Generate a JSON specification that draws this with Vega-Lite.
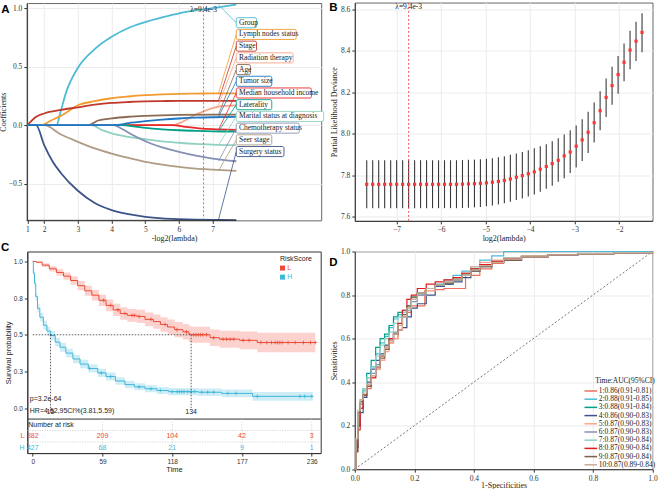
{
"$schema": "https://vega.github.io/schema/vega-lite/v6.json",
"background": "white",
"padding": {"left": -1.5, "top": 0.2, "right": 0, "bottom": 0},
"config": {
 "axis": {"labelFont": "Liberation Serif", "titleFont": "Liberation Serif", "labelFontSize": 7.5, "titleFontSize": 8, "titleFontWeight": "normal", "labelColor": "#333", "titleColor": "#222", "tickColor": "#333", "domainColor": "#333", "gridColor": "#ebebeb", "tickSize": 3, "labelFlush": false, "labelPadding": 2},
 "text": {"font": "Liberation Serif"},
 "legend": {"labelFont": "Liberation Serif", "titleFont": "Liberation Serif"}
},
"datasets": {
 "coef": [
  {"v":"Group","x":1.5,"y":0},{"v":"Group","x":2.36,"y":0},{"v":"Group","x":2.5,"y":0.13},{"v":"Group","x":2.65,"y":0.28},{"v":"Group","x":3,"y":0.49},{"v":"Group","x":3.5,"y":0.65},{"v":"Group","x":4,"y":0.755},{"v":"Group","x":4.5,"y":0.83},{"v":"Group","x":5,"y":0.88},{"v":"Group","x":5.5,"y":0.92},{"v":"Group","x":6,"y":0.955},{"v":"Group","x":6.5,"y":0.98},{"v":"Group","x":7,"y":1.0},{"v":"Group","x":7.7,"y":1.03},
  {"v":"Lymph nodes status","x":1.5,"y":0},{"v":"Lymph nodes status","x":1.9,"y":0},{"v":"Lymph nodes status","x":2.2,"y":0.04},{"v":"Lymph nodes status","x":2.5,"y":0.08},{"v":"Lymph nodes status","x":3,"y":0.17},{"v":"Lymph nodes status","x":3.5,"y":0.205},{"v":"Lymph nodes status","x":4,"y":0.23},{"v":"Lymph nodes status","x":4.5,"y":0.245},{"v":"Lymph nodes status","x":5,"y":0.256},{"v":"Lymph nodes status","x":5.5,"y":0.263},{"v":"Lymph nodes status","x":6,"y":0.268},{"v":"Lymph nodes status","x":6.5,"y":0.27},{"v":"Lymph nodes status","x":7,"y":0.272},{"v":"Lymph nodes status","x":7.7,"y":0.272},
  {"v":"Stage","x":1.5,"y":0},{"v":"Stage","x":1.6,"y":0.03},{"v":"Stage","x":1.75,"y":0.07},{"v":"Stage","x":2,"y":0.1},{"v":"Stage","x":2.5,"y":0.13},{"v":"Stage","x":3,"y":0.153},{"v":"Stage","x":3.5,"y":0.175},{"v":"Stage","x":4,"y":0.19},{"v":"Stage","x":4.5,"y":0.198},{"v":"Stage","x":5,"y":0.203},{"v":"Stage","x":5.5,"y":0.206},{"v":"Stage","x":6,"y":0.208},{"v":"Stage","x":7,"y":0.208},{"v":"Stage","x":7.7,"y":0.208},
  {"v":"Radiation therapy","x":1.5,"y":0},{"v":"Radiation therapy","x":5.8,"y":0},{"v":"Radiation therapy","x":6.5,"y":0.09},{"v":"Radiation therapy","x":7.2,"y":0.16},{"v":"Radiation therapy","x":7.7,"y":0.17},
  {"v":"Age","x":1.5,"y":0},{"v":"Age","x":3.3,"y":0},{"v":"Age","x":3.6,"y":0.04},{"v":"Age","x":4,"y":0.058},{"v":"Age","x":4.5,"y":0.072},{"v":"Age","x":5,"y":0.08},{"v":"Age","x":6,"y":0.088},{"v":"Age","x":7,"y":0.09},{"v":"Age","x":7.7,"y":0.09},
  {"v":"Median household income","x":1.5,"y":0},{"v":"Median household income","x":5.8,"y":0},{"v":"Median household income","x":6.2,"y":-0.015},{"v":"Median household income","x":6.6,"y":-0.027},{"v":"Median household income","x":7,"y":-0.034},{"v":"Median household income","x":7.7,"y":-0.04},
  {"v":"Laterality","x":1.5,"y":0},{"v":"Laterality","x":4.3,"y":0},{"v":"Laterality","x":4.7,"y":-0.012},{"v":"Laterality","x":5,"y":-0.023},{"v":"Laterality","x":5.5,"y":-0.035},{"v":"Laterality","x":6,"y":-0.043},{"v":"Laterality","x":6.5,"y":-0.048},{"v":"Laterality","x":7,"y":-0.052},{"v":"Laterality","x":7.7,"y":-0.054},
  {"v":"Marital status at diagnosis","x":1.5,"y":0},{"v":"Marital status at diagnosis","x":3.4,"y":0},{"v":"Marital status at diagnosis","x":3.7,"y":-0.04},{"v":"Marital status at diagnosis","x":4,"y":-0.07},{"v":"Marital status at diagnosis","x":4.5,"y":-0.1},{"v":"Marital status at diagnosis","x":5,"y":-0.12},{"v":"Marital status at diagnosis","x":5.5,"y":-0.138},{"v":"Marital status at diagnosis","x":6,"y":-0.15},{"v":"Marital status at diagnosis","x":6.5,"y":-0.16},{"v":"Marital status at diagnosis","x":7,"y":-0.166},{"v":"Marital status at diagnosis","x":7.7,"y":-0.171},
  {"v":"Chemotherapy status","x":1.5,"y":0},{"v":"Chemotherapy status","x":4.05,"y":0},{"v":"Chemotherapy status","x":4.3,"y":-0.03},{"v":"Chemotherapy status","x":4.6,"y":-0.08},{"v":"Chemotherapy status","x":5,"y":-0.137},{"v":"Chemotherapy status","x":5.5,"y":-0.19},{"v":"Chemotherapy status","x":6,"y":-0.228},{"v":"Chemotherapy status","x":6.5,"y":-0.26},{"v":"Chemotherapy status","x":7,"y":-0.285},{"v":"Chemotherapy status","x":7.7,"y":-0.308},
  {"v":"Seer stage","x":1.5,"y":0},{"v":"Seer stage","x":2.0,"y":0},{"v":"Seer stage","x":2.5,"y":-0.08},{"v":"Seer stage","x":3,"y":-0.142},{"v":"Seer stage","x":3.5,"y":-0.198},{"v":"Seer stage","x":4,"y":-0.242},{"v":"Seer stage","x":4.5,"y":-0.28},{"v":"Seer stage","x":5,"y":-0.313},{"v":"Seer stage","x":5.5,"y":-0.337},{"v":"Seer stage","x":6,"y":-0.356},{"v":"Seer stage","x":6.5,"y":-0.37},{"v":"Seer stage","x":7,"y":-0.379},{"v":"Seer stage","x":7.7,"y":-0.39},
  {"v":"Surgery status","x":1.5,"y":0},{"v":"Surgery status","x":1.76,"y":0},{"v":"Surgery status","x":2,"y":-0.17},{"v":"Surgery status","x":2.25,"y":-0.31},{"v":"Surgery status","x":2.5,"y":-0.41},{"v":"Surgery status","x":3,"y":-0.56},{"v":"Surgery status","x":3.5,"y":-0.665},{"v":"Surgery status","x":4,"y":-0.725},{"v":"Surgery status","x":4.5,"y":-0.76},{"v":"Surgery status","x":5,"y":-0.782},{"v":"Surgery status","x":5.5,"y":-0.795},{"v":"Surgery status","x":6,"y":-0.802},{"v":"Surgery status","x":7,"y":-0.809},{"v":"Surgery status","x":7.7,"y":-0.81},
  {"v":"Tumor size","x":1.5,"y":0},{"v":"Tumor size","x":4.1,"y":0},{"v":"Tumor size","x":4.5,"y":0.018},{"v":"Tumor size","x":5,"y":0.034},{"v":"Tumor size","x":5.5,"y":0.047},{"v":"Tumor size","x":6,"y":0.057},{"v":"Tumor size","x":6.5,"y":0.064},{"v":"Tumor size","x":7,"y":0.068},{"v":"Tumor size","x":7.7,"y":0.071}
 ],
 "cv": [
  {"lx":-7.672,"m":7.756,"lo":7.641,"hi":7.872},{"lx":-7.538,"m":7.756,"lo":7.641,"hi":7.872},{"lx":-7.403,"m":7.756,"lo":7.641,"hi":7.872},{"lx":-7.269,"m":7.756,"lo":7.641,"hi":7.872},{"lx":-7.134,"m":7.756,"lo":7.641,"hi":7.872},{"lx":-7.0,"m":7.756,"lo":7.641,"hi":7.872},{"lx":-6.865,"m":7.756,"lo":7.641,"hi":7.872},{"lx":-6.731,"m":7.756,"lo":7.641,"hi":7.872},{"lx":-6.596,"m":7.756,"lo":7.641,"hi":7.872},{"lx":-6.462,"m":7.756,"lo":7.641,"hi":7.872},{"lx":-6.327,"m":7.756,"lo":7.641,"hi":7.872},{"lx":-6.193,"m":7.756,"lo":7.641,"hi":7.872},{"lx":-6.058,"m":7.756,"lo":7.641,"hi":7.872},{"lx":-5.924,"m":7.756,"lo":7.641,"hi":7.872},{"lx":-5.789,"m":7.756,"lo":7.641,"hi":7.872},{"lx":-5.655,"m":7.756,"lo":7.641,"hi":7.872},
  {"lx":-5.52,"m":7.757,"lo":7.642,"hi":7.873},{"lx":-5.386,"m":7.758,"lo":7.643,"hi":7.874},{"lx":-5.251,"m":7.759,"lo":7.645,"hi":7.875},{"lx":-5.117,"m":7.761,"lo":7.647,"hi":7.877},{"lx":-4.982,"m":7.763,"lo":7.65,"hi":7.879},{"lx":-4.848,"m":7.766,"lo":7.654,"hi":7.882},{"lx":-4.713,"m":7.77,"lo":7.659,"hi":7.886},{"lx":-4.579,"m":7.775,"lo":7.665,"hi":7.891},{"lx":-4.444,"m":7.782,"lo":7.672,"hi":7.898},{"lx":-4.31,"m":7.79,"lo":7.68,"hi":7.905},{"lx":-4.175,"m":7.798,"lo":7.688,"hi":7.912},{"lx":-4.041,"m":7.807,"lo":7.697,"hi":7.92},{"lx":-3.906,"m":7.816,"lo":7.707,"hi":7.93},{"lx":-3.772,"m":7.829,"lo":7.72,"hi":7.94},{"lx":-3.637,"m":7.842,"lo":7.735,"hi":7.949},{"lx":-3.503,"m":7.856,"lo":7.749,"hi":7.964},{"lx":-3.368,"m":7.872,"lo":7.768,"hi":7.978},{"lx":-3.234,"m":7.893,"lo":7.785,"hi":7.996},{"lx":-3.099,"m":7.912,"lo":7.81,"hi":8.016},{"lx":-2.965,"m":7.94,"lo":7.837,"hi":8.04},{"lx":-2.83,"m":7.97,"lo":7.869,"hi":8.07},{"lx":-2.696,"m":8.007,"lo":7.907,"hi":8.106},{"lx":-2.561,"m":8.053,"lo":7.957,"hi":8.15},{"lx":-2.427,"m":8.111,"lo":8.016,"hi":8.205},{"lx":-2.292,"m":8.175,"lo":8.08,"hi":8.266},{"lx":-2.158,"m":8.232,"lo":8.14,"hi":8.323},{"lx":-2.023,"m":8.285,"lo":8.192,"hi":8.375},{"lx":-1.889,"m":8.344,"lo":8.253,"hi":8.435},{"lx":-1.754,"m":8.403,"lo":8.31,"hi":8.496},{"lx":-1.62,"m":8.446,"lo":8.35,"hi":8.539},{"lx":-1.485,"m":8.488,"lo":8.392,"hi":8.581}
 ],
 "km": [
  {"g":"L","t":0,"p":1,"lo":1,"hi":1},{"g":"L","t":3,"p":0.995,"lo":0.988,"hi":1},{"g":"L","t":8,"p":0.975,"lo":0.962,"hi":0.988},{"g":"L","t":14,"p":0.95,"lo":0.932,"hi":0.968},{"g":"L","t":20,"p":0.925,"lo":0.903,"hi":0.947},{"g":"L","t":26,"p":0.9,"lo":0.875,"hi":0.925},{"g":"L","t":32,"p":0.87,"lo":0.842,"hi":0.898},{"g":"L","t":38,"p":0.835,"lo":0.804,"hi":0.866},{"g":"L","t":44,"p":0.8,"lo":0.766,"hi":0.834},{"g":"L","t":50,"p":0.77,"lo":0.734,"hi":0.806},{"g":"L","t":56,"p":0.735,"lo":0.697,"hi":0.773},{"g":"L","t":62,"p":0.7,"lo":0.66,"hi":0.74},{"g":"L","t":68,"p":0.67,"lo":0.628,"hi":0.712},{"g":"L","t":74,"p":0.645,"lo":0.602,"hi":0.688},{"g":"L","t":80,"p":0.632,"lo":0.588,"hi":0.676},{"g":"L","t":88,"p":0.625,"lo":0.58,"hi":0.67},{"g":"L","t":95,"p":0.605,"lo":0.558,"hi":0.652},{"g":"L","t":102,"p":0.59,"lo":0.541,"hi":0.639},{"g":"L","t":108,"p":0.57,"lo":0.52,"hi":0.62},{"g":"L","t":114,"p":0.553,"lo":0.502,"hi":0.604},{"g":"L","t":120,"p":0.535,"lo":0.483,"hi":0.587},{"g":"L","t":127,"p":0.52,"lo":0.467,"hi":0.573},{"g":"L","t":132,"p":0.505,"lo":0.451,"hi":0.559},{"g":"L","t":134,"p":0.5,"lo":0.446,"hi":0.554},{"g":"L","t":150,"p":0.48,"lo":0.424,"hi":0.536},{"g":"L","t":158,"p":0.47,"lo":0.412,"hi":0.528},{"g":"L","t":175,"p":0.462,"lo":0.401,"hi":0.523},{"g":"L","t":190,"p":0.447,"lo":0.381,"hi":0.513},{"g":"L","t":239,"p":0.447,"lo":0.381,"hi":0.513},
  {"g":"H","t":0,"p":1,"lo":1,"hi":1},{"g":"H","t":0.5,"p":0.92,"lo":0.9,"hi":0.94},{"g":"H","t":1.5,"p":0.85,"lo":0.825,"hi":0.875},{"g":"H","t":2.5,"p":0.76,"lo":0.733,"hi":0.787},{"g":"H","t":4,"p":0.68,"lo":0.652,"hi":0.708},{"g":"H","t":6,"p":0.62,"lo":0.591,"hi":0.649},{"g":"H","t":9,"p":0.565,"lo":0.535,"hi":0.595},{"g":"H","t":12,"p":0.525,"lo":0.495,"hi":0.555},{"g":"H","t":15,"p":0.495,"lo":0.465,"hi":0.525},{"g":"H","t":19,"p":0.45,"lo":0.42,"hi":0.48},{"g":"H","t":23,"p":0.415,"lo":0.385,"hi":0.445},{"g":"H","t":28,"p":0.375,"lo":0.345,"hi":0.405},{"g":"H","t":34,"p":0.335,"lo":0.306,"hi":0.364},{"g":"H","t":40,"p":0.3,"lo":0.271,"hi":0.329},{"g":"H","t":47,"p":0.27,"lo":0.242,"hi":0.298},{"g":"H","t":55,"p":0.24,"lo":0.212,"hi":0.268},{"g":"H","t":62,"p":0.215,"lo":0.188,"hi":0.242},{"g":"H","t":70,"p":0.185,"lo":0.159,"hi":0.211},{"g":"H","t":78,"p":0.16,"lo":0.135,"hi":0.185},{"g":"H","t":86,"p":0.145,"lo":0.121,"hi":0.169},{"g":"H","t":95,"p":0.132,"lo":0.108,"hi":0.156},{"g":"H","t":105,"p":0.12,"lo":0.096,"hi":0.144},{"g":"H","t":115,"p":0.112,"lo":0.087,"hi":0.137},{"g":"H","t":140,"p":0.108,"lo":0.082,"hi":0.134},{"g":"H","t":160,"p":0.1,"lo":0.073,"hi":0.127},{"g":"H","t":186,"p":0.08,"lo":0.05,"hi":0.11},{"g":"H","t":237,"p":0.08,"lo":0.05,"hi":0.11}
 ],
 "cens": [
  {"g":"L","t":60,"p":0.735},{"g":"L","t":66,"p":0.7},{"g":"L","t":72,"p":0.67},{"g":"L","t":78,"p":0.645},{"g":"L","t":84,"p":0.632},{"g":"L","t":86,"p":0.632},{"g":"L","t":90,"p":0.625},{"g":"L","t":100,"p":0.605},{"g":"L","t":112,"p":0.57},{"g":"L","t":122,"p":0.535},{"g":"L","t":130,"p":0.52},{"g":"L","t":136,"p":0.5},{"g":"L","t":138,"p":0.5},{"g":"L","t":140,"p":0.5},{"g":"L","t":142,"p":0.5},{"g":"L","t":144,"p":0.5},{"g":"L","t":147,"p":0.5},{"g":"L","t":153,"p":0.48},{"g":"L","t":161,"p":0.47},{"g":"L","t":164,"p":0.47},{"g":"L","t":167,"p":0.47},{"g":"L","t":170,"p":0.47},{"g":"L","t":178,"p":0.462},{"g":"L","t":183,"p":0.462},{"g":"L","t":193,"p":0.447},{"g":"L","t":198,"p":0.447},{"g":"L","t":202,"p":0.447},{"g":"L","t":205,"p":0.447},{"g":"L","t":207,"p":0.447},{"g":"L","t":209,"p":0.447},{"g":"L","t":211,"p":0.447},{"g":"L","t":216,"p":0.447},{"g":"L","t":222,"p":0.447},{"g":"L","t":229,"p":0.447},{"g":"L","t":235,"p":0.447},{"g":"L","t":239,"p":0.447},
  {"g":"H","t":48,"p":0.27},{"g":"H","t":58,"p":0.24},{"g":"H","t":66,"p":0.215},{"g":"H","t":90,"p":0.145},{"g":"H","t":100,"p":0.132},{"g":"H","t":108,"p":0.12},{"g":"H","t":118,"p":0.112},{"g":"H","t":122,"p":0.112},{"g":"H","t":124,"p":0.112},{"g":"H","t":126,"p":0.112},{"g":"H","t":128,"p":0.112},{"g":"H","t":131,"p":0.112},{"g":"H","t":134,"p":0.112},{"g":"H","t":137,"p":0.112},{"g":"H","t":143,"p":0.108},{"g":"H","t":148,"p":0.108},{"g":"H","t":153,"p":0.108},{"g":"H","t":165,"p":0.1},{"g":"H","t":172,"p":0.1},{"g":"H","t":190,"p":0.08},{"g":"H","t":226,"p":0.08},{"g":"H","t":230,"p":0.08},{"g":"H","t":236,"p":0.08}
 ],
 "risk": [
  {"g":"L","t":0,"n":"382"},{"g":"L","t":59,"n":"209"},{"g":"L","t":118,"n":"104"},{"g":"L","t":177,"n":"42"},{"g":"L","t":236,"n":"3"},
  {"g":"H","t":0,"n":"427"},{"g":"H","t":59,"n":"68"},{"g":"H","t":118,"n":"21"},{"g":"H","t":177,"n":"9"},{"g":"H","t":236,"n":"1"}
 ],
 "medians": [{"t":15},{"t":134}],
 "aucs": [
  {"k":1,"s":"1:0.86(0.91-0.81)"},{"k":2,"s":"2:0.88(0.91-0.85)"},{"k":3,"s":"3:0.88(0.91-0.84)"},{"k":4,"s":"4:0.86(0.90-0.83)"},{"k":5,"s":"5:0.87(0.90-0.83)"},{"k":6,"s":"6:0.87(0.90-0.83)"},{"k":7,"s":"7:0.87(0.90-0.84)"},{"k":8,"s":"8:0.87(0.90-0.84)"},{"k":9,"s":"9:0.87(0.90-0.84)"},{"k":10,"s":"10:0.87(0.89-0.84)"}
 ],
 "roc": [
  {"k":1,"x":0,"y":0},{"k":1,"x":0.004,"y":0.1},{"k":1,"x":0.01,"y":0.22},{"k":1,"x":0.018,"y":0.28},{"k":1,"x":0.028,"y":0.33},{"k":1,"x":0.04,"y":0.37},{"k":1,"x":0.055,"y":0.42},{"k":1,"x":0.07,"y":0.46},{"k":1,"x":0.085,"y":0.5},{"k":1,"x":0.1,"y":0.55},{"k":1,"x":0.115,"y":0.58},{"k":1,"x":0.13,"y":0.6},{"k":1,"x":0.145,"y":0.64},{"k":1,"x":0.16,"y":0.7},{"k":1,"x":0.175,"y":0.72},{"k":1,"x":0.19,"y":0.75},{"k":1,"x":0.21,"y":0.75},{"k":1,"x":0.235,"y":0.82},{"k":1,"x":0.27,"y":0.825},{"k":1,"x":0.3,"y":0.83},{"k":1,"x":0.33,"y":0.83},{"k":1,"x":0.36,"y":0.83},{"k":1,"x":0.372,"y":0.89},{"k":1,"x":0.42,"y":0.92},{"k":1,"x":0.46,"y":0.945},{"k":1,"x":0.5,"y":0.96},{"k":1,"x":0.56,"y":0.975},{"k":1,"x":0.65,"y":0.985},{"k":1,"x":0.75,"y":0.99},{"k":1,"x":0.87,"y":0.995},{"k":1,"x":1,"y":1},
  {"k":2,"x":0,"y":0},{"k":2,"x":0.004,"y":0.1},{"k":2,"x":0.01,"y":0.2},{"k":2,"x":0.018,"y":0.3},{"k":2,"x":0.028,"y":0.36},{"k":2,"x":0.04,"y":0.42},{"k":2,"x":0.055,"y":0.47},{"k":2,"x":0.07,"y":0.53},{"k":2,"x":0.085,"y":0.58},{"k":2,"x":0.1,"y":0.61},{"k":2,"x":0.115,"y":0.65},{"k":2,"x":0.13,"y":0.69},{"k":2,"x":0.145,"y":0.71},{"k":2,"x":0.16,"y":0.72},{"k":2,"x":0.175,"y":0.75},{"k":2,"x":0.19,"y":0.78},{"k":2,"x":0.21,"y":0.8},{"k":2,"x":0.24,"y":0.83},{"k":2,"x":0.27,"y":0.85},{"k":2,"x":0.3,"y":0.87},{"k":2,"x":0.33,"y":0.89},{"k":2,"x":0.36,"y":0.91},{"k":2,"x":0.39,"y":0.93},{"k":2,"x":0.42,"y":0.96},{"k":2,"x":0.46,"y":0.98},{"k":2,"x":0.5,"y":1},{"k":2,"x":1,"y":1},
  {"k":3,"x":0,"y":0},{"k":3,"x":0.004,"y":0.08},{"k":3,"x":0.01,"y":0.2},{"k":3,"x":0.018,"y":0.3},{"k":3,"x":0.028,"y":0.37},{"k":3,"x":0.04,"y":0.44},{"k":3,"x":0.055,"y":0.5},{"k":3,"x":0.07,"y":0.56},{"k":3,"x":0.085,"y":0.6},{"k":3,"x":0.1,"y":0.62},{"k":3,"x":0.115,"y":0.66},{"k":3,"x":0.13,"y":0.7},{"k":3,"x":0.145,"y":0.72},{"k":3,"x":0.16,"y":0.73},{"k":3,"x":0.175,"y":0.75},{"k":3,"x":0.19,"y":0.79},{"k":3,"x":0.21,"y":0.81},{"k":3,"x":0.24,"y":0.83},{"k":3,"x":0.27,"y":0.84},{"k":3,"x":0.3,"y":0.85},{"k":3,"x":0.33,"y":0.87},{"k":3,"x":0.36,"y":0.9},{"k":3,"x":0.39,"y":0.92},{"k":3,"x":0.42,"y":0.94},{"k":3,"x":0.46,"y":0.955},{"k":3,"x":0.5,"y":0.97},{"k":3,"x":0.56,"y":0.98},{"k":3,"x":0.65,"y":0.985},{"k":3,"x":0.75,"y":0.99},{"k":3,"x":0.87,"y":0.995},{"k":3,"x":1,"y":1},
  {"k":4,"x":0,"y":0},{"k":4,"x":0.004,"y":0.1},{"k":4,"x":0.01,"y":0.2},{"k":4,"x":0.018,"y":0.26},{"k":4,"x":0.028,"y":0.33},{"k":4,"x":0.04,"y":0.4},{"k":4,"x":0.055,"y":0.46},{"k":4,"x":0.07,"y":0.5},{"k":4,"x":0.085,"y":0.53},{"k":4,"x":0.1,"y":0.57},{"k":4,"x":0.115,"y":0.6},{"k":4,"x":0.13,"y":0.62},{"k":4,"x":0.145,"y":0.64},{"k":4,"x":0.16,"y":0.65},{"k":4,"x":0.175,"y":0.7},{"k":4,"x":0.19,"y":0.74},{"k":4,"x":0.21,"y":0.76},{"k":4,"x":0.24,"y":0.8},{"k":4,"x":0.27,"y":0.84},{"k":4,"x":0.3,"y":0.85},{"k":4,"x":0.33,"y":0.86},{"k":4,"x":0.36,"y":0.88},{"k":4,"x":0.39,"y":0.91},{"k":4,"x":0.42,"y":0.93},{"k":4,"x":0.46,"y":0.95},{"k":4,"x":0.5,"y":0.96},{"k":4,"x":0.56,"y":0.975},{"k":4,"x":0.65,"y":0.985},{"k":4,"x":0.75,"y":0.99},{"k":4,"x":0.87,"y":0.995},{"k":4,"x":1,"y":1},
  {"k":5,"x":0,"y":0},{"k":5,"x":0.004,"y":0.12},{"k":5,"x":0.01,"y":0.25},{"k":5,"x":0.018,"y":0.3},{"k":5,"x":0.028,"y":0.34},{"k":5,"x":0.04,"y":0.38},{"k":5,"x":0.055,"y":0.42},{"k":5,"x":0.07,"y":0.46},{"k":5,"x":0.085,"y":0.5},{"k":5,"x":0.1,"y":0.54},{"k":5,"x":0.115,"y":0.58},{"k":5,"x":0.13,"y":0.6},{"k":5,"x":0.145,"y":0.64},{"k":5,"x":0.16,"y":0.7},{"k":5,"x":0.175,"y":0.74},{"k":5,"x":0.19,"y":0.78},{"k":5,"x":0.21,"y":0.8},{"k":5,"x":0.24,"y":0.82},{"k":5,"x":0.27,"y":0.845},{"k":5,"x":0.3,"y":0.86},{"k":5,"x":0.33,"y":0.87},{"k":5,"x":0.36,"y":0.9},{"k":5,"x":0.39,"y":0.93},{"k":5,"x":0.42,"y":0.95},{"k":5,"x":0.46,"y":0.96},{"k":5,"x":0.5,"y":0.97},{"k":5,"x":0.56,"y":0.98},{"k":5,"x":0.65,"y":0.985},{"k":5,"x":0.75,"y":0.99},{"k":5,"x":0.87,"y":0.995},{"k":5,"x":1,"y":1},
  {"k":6,"x":0,"y":0},{"k":6,"x":0.004,"y":0.12},{"k":6,"x":0.01,"y":0.22},{"k":6,"x":0.018,"y":0.3},{"k":6,"x":0.028,"y":0.34},{"k":6,"x":0.04,"y":0.39},{"k":6,"x":0.055,"y":0.44},{"k":6,"x":0.07,"y":0.48},{"k":6,"x":0.085,"y":0.52},{"k":6,"x":0.1,"y":0.56},{"k":6,"x":0.115,"y":0.6},{"k":6,"x":0.13,"y":0.63},{"k":6,"x":0.145,"y":0.66},{"k":6,"x":0.16,"y":0.7},{"k":6,"x":0.175,"y":0.73},{"k":6,"x":0.19,"y":0.77},{"k":6,"x":0.21,"y":0.8},{"k":6,"x":0.24,"y":0.83},{"k":6,"x":0.27,"y":0.845},{"k":6,"x":0.3,"y":0.855},{"k":6,"x":0.33,"y":0.87},{"k":6,"x":0.36,"y":0.89},{"k":6,"x":0.39,"y":0.91},{"k":6,"x":0.42,"y":0.935},{"k":6,"x":0.46,"y":0.95},{"k":6,"x":0.5,"y":0.965},{"k":6,"x":0.56,"y":0.975},{"k":6,"x":0.65,"y":0.985},{"k":6,"x":0.75,"y":0.99},{"k":6,"x":0.87,"y":0.995},{"k":6,"x":1,"y":1},
  {"k":7,"x":0,"y":0},{"k":7,"x":0.004,"y":0.14},{"k":7,"x":0.01,"y":0.26},{"k":7,"x":0.018,"y":0.32},{"k":7,"x":0.028,"y":0.37},{"k":7,"x":0.04,"y":0.42},{"k":7,"x":0.055,"y":0.47},{"k":7,"x":0.07,"y":0.52},{"k":7,"x":0.085,"y":0.57},{"k":7,"x":0.1,"y":0.6},{"k":7,"x":0.115,"y":0.63},{"k":7,"x":0.13,"y":0.67},{"k":7,"x":0.145,"y":0.7},{"k":7,"x":0.16,"y":0.72},{"k":7,"x":0.175,"y":0.75},{"k":7,"x":0.19,"y":0.79},{"k":7,"x":0.21,"y":0.81},{"k":7,"x":0.24,"y":0.83},{"k":7,"x":0.27,"y":0.845},{"k":7,"x":0.3,"y":0.86},{"k":7,"x":0.33,"y":0.875},{"k":7,"x":0.36,"y":0.895},{"k":7,"x":0.39,"y":0.915},{"k":7,"x":0.42,"y":0.935},{"k":7,"x":0.46,"y":0.95},{"k":7,"x":0.5,"y":0.965},{"k":7,"x":0.56,"y":0.975},{"k":7,"x":0.65,"y":0.985},{"k":7,"x":0.75,"y":0.99},{"k":7,"x":0.87,"y":0.995},{"k":7,"x":1,"y":1},
  {"k":8,"x":0,"y":0},{"k":8,"x":0.004,"y":0.08},{"k":8,"x":0.01,"y":0.18},{"k":8,"x":0.018,"y":0.28},{"k":8,"x":0.028,"y":0.34},{"k":8,"x":0.04,"y":0.38},{"k":8,"x":0.055,"y":0.42},{"k":8,"x":0.07,"y":0.47},{"k":8,"x":0.085,"y":0.52},{"k":8,"x":0.1,"y":0.56},{"k":8,"x":0.115,"y":0.6},{"k":8,"x":0.13,"y":0.62},{"k":8,"x":0.145,"y":0.67},{"k":8,"x":0.16,"y":0.73},{"k":8,"x":0.175,"y":0.78},{"k":8,"x":0.19,"y":0.8},{"k":8,"x":0.21,"y":0.83},{"k":8,"x":0.24,"y":0.85},{"k":8,"x":0.27,"y":0.86},{"k":8,"x":0.3,"y":0.87},{"k":8,"x":0.33,"y":0.88},{"k":8,"x":0.36,"y":0.9},{"k":8,"x":0.39,"y":0.92},{"k":8,"x":0.42,"y":0.94},{"k":8,"x":0.46,"y":0.955},{"k":8,"x":0.5,"y":0.965},{"k":8,"x":0.56,"y":0.975},{"k":8,"x":0.65,"y":0.985},{"k":8,"x":0.75,"y":0.99},{"k":8,"x":0.87,"y":0.995},{"k":8,"x":1,"y":1},
  {"k":9,"x":0,"y":0},{"k":9,"x":0.004,"y":0.13},{"k":9,"x":0.01,"y":0.26},{"k":9,"x":0.018,"y":0.31},{"k":9,"x":0.028,"y":0.34},{"k":9,"x":0.04,"y":0.38},{"k":9,"x":0.055,"y":0.43},{"k":9,"x":0.07,"y":0.47},{"k":9,"x":0.085,"y":0.51},{"k":9,"x":0.1,"y":0.55},{"k":9,"x":0.115,"y":0.59},{"k":9,"x":0.13,"y":0.62},{"k":9,"x":0.145,"y":0.66},{"k":9,"x":0.16,"y":0.71},{"k":9,"x":0.175,"y":0.75},{"k":9,"x":0.19,"y":0.79},{"k":9,"x":0.21,"y":0.81},{"k":9,"x":0.24,"y":0.83},{"k":9,"x":0.27,"y":0.845},{"k":9,"x":0.3,"y":0.855},{"k":9,"x":0.33,"y":0.87},{"k":9,"x":0.36,"y":0.89},{"k":9,"x":0.39,"y":0.91},{"k":9,"x":0.42,"y":0.93},{"k":9,"x":0.46,"y":0.95},{"k":9,"x":0.5,"y":0.96},{"k":9,"x":0.56,"y":0.975},{"k":9,"x":0.65,"y":0.985},{"k":9,"x":0.75,"y":0.99},{"k":9,"x":0.87,"y":0.995},{"k":9,"x":1,"y":1},
  {"k":10,"x":0,"y":0},{"k":10,"x":0.004,"y":0.14},{"k":10,"x":0.01,"y":0.27},{"k":10,"x":0.018,"y":0.32},{"k":10,"x":0.028,"y":0.35},{"k":10,"x":0.04,"y":0.39},{"k":10,"x":0.055,"y":0.43},{"k":10,"x":0.07,"y":0.47},{"k":10,"x":0.085,"y":0.52},{"k":10,"x":0.1,"y":0.56},{"k":10,"x":0.115,"y":0.59},{"k":10,"x":0.13,"y":0.62},{"k":10,"x":0.145,"y":0.66},{"k":10,"x":0.16,"y":0.7},{"k":10,"x":0.175,"y":0.74},{"k":10,"x":0.19,"y":0.78},{"k":10,"x":0.21,"y":0.81},{"k":10,"x":0.24,"y":0.83},{"k":10,"x":0.27,"y":0.845},{"k":10,"x":0.3,"y":0.86},{"k":10,"x":0.33,"y":0.87},{"k":10,"x":0.36,"y":0.89},{"k":10,"x":0.39,"y":0.915},{"k":10,"x":0.42,"y":0.935},{"k":10,"x":0.46,"y":0.95},{"k":10,"x":0.5,"y":0.965},{"k":10,"x":0.56,"y":0.975},{"k":10,"x":0.65,"y":0.985},{"k":10,"x":0.75,"y":0.99},{"k":10,"x":0.87,"y":0.995},{"k":10,"x":1,"y":1}
 ]
},
"bounds": "flush",
"center": true,
"columns": 2,
"spacing": {"row": 30.3, "column": 33.3},
"resolve": {"scale": {"color": "independent", "stroke": "independent"}, "legend": {"color": "independent", "stroke": "independent"}},
"concat": [
   {
    "width": 294.4, "height": 217.3,
    "view": {"stroke": "#666"},
    "layer": [
     {
      "data": {"name": "coef"},
      "mark": {"type": "line", "interpolate": "monotone", "strokeWidth": 1.8},
      "encoding": {
       "x": {"field": "x", "type": "quantitative", "scale": {"domain": [1.484, 10.22], "nice": false, "zero": false}, "axis": {"title": "-log2(lambda)", "values": [1.5, 2, 3, 4, 5, 6, 7], "labelExpr": "datum.value == 1.5 ? '1' : datum.label", "domain": false, "grid": true, "titlePadding": 2}},
       "y": {"field": "y", "type": "quantitative", "scale": {"domain": [-0.8125, 1.043], "nice": false, "zero": false}, "axis": {"title": "Coefficients", "values": [-0.5, 0, 0.5, 1], "format": ".1f", "grid": true, "titlePadding": 0.5}},
       "color": {"field": "v", "type": "nominal", "scale": {"domain": ["Group","Lymph nodes status","Stage","Radiation therapy","Age","Tumor size","Median household income","Laterality","Marital status at diagnosis","Chemotherapy status","Seer stage","Surgery status"], "range": ["#4DBBD5","#F39B2E","#C0392B","#F7A487","#8C6B55","#1F78C4","#E8282B","#00A087","#91D1C2","#8491B4","#B09C85","#3C5488"]}, "legend": null}
      }
     },
     {
      "data": {"name": "coef"},
      "transform": [
       {"filter": "datum.x == 7.7"},
       {"window": [{"op": "row_number", "as": "r"}], "sort": [{"field": "y", "order": "descending"}]},
       {"calculate": "0.975 - datum.r * 0.1", "as": "ly"},
       {"calculate": "datum.ly + 0.043", "as": "yt"},
       {"calculate": "datum.ly - 0.043", "as": "yb"},
       {"calculate": "7.7", "as": "bx1"},
       {"calculate": "7.17", "as": "lx1"},
       {"calculate": "7.78", "as": "tx"},
       {"calculate": "7.7 + (length(datum.v) * 3.05 + 5) / 33.7", "as": "bx2"}
      ],
      "layer": [
       {"mark": {"type": "rule", "strokeWidth": 0.8}, "encoding": {"x": {"field": "lx1", "type": "quantitative"}, "x2": {"field": "bx1"}, "y": {"field": "y", "type": "quantitative"}, "y2": {"field": "ly"}, "color": {"field": "v", "type": "nominal", "legend": null}}},
       {"mark": {"type": "rect", "fill": "white", "strokeWidth": 0.9, "cornerRadius": 1.5}, "encoding": {"x": {"field": "bx1", "type": "quantitative"}, "x2": {"field": "bx2"}, "y": {"field": "yb", "type": "quantitative"}, "y2": {"field": "yt"}, "stroke": {"field": "v", "type": "nominal", "scale": {"domain": ["Group","Lymph nodes status","Stage","Radiation therapy","Age","Tumor size","Median household income","Laterality","Marital status at diagnosis","Chemotherapy status","Seer stage","Surgery status"], "range": ["#4DBBD5","#F39B2E","#C0392B","#F7A487","#8C6B55","#1F78C4","#E8282B","#00A087","#91D1C2","#8491B4","#B09C85","#3C5488"]}, "legend": null}}},
       {"mark": {"type": "text", "align": "left", "baseline": "middle", "fontSize": 7.5, "color": "#222"}, "encoding": {"x": {"field": "tx", "type": "quantitative"}, "y": {"field": "ly", "type": "quantitative"}, "text": {"field": "v", "type": "nominal"}}}
      ]
     },
     {"data": {"values": [{}]}, "mark": {"type": "rule", "color": "#E8474A", "strokeDash": [2, 2], "strokeWidth": 0.9}, "encoding": {"x": {"datum": 6.73, "type": "quantitative"}, "y": {"datum": -0.8125, "type": "quantitative"}, "y2": {"datum": 1.043}}},
     {"data": {"values": [{}]}, "mark": {"type": "text", "text": "λ=9.4e-3", "fontSize": 7.5, "align": "center", "baseline": "middle", "color": "#222"}, "encoding": {"x": {"datum": 6.73, "type": "quantitative"}, "y": {"datum": 0.98, "type": "quantitative"}}},
     {"data": {"values": [{}]}, "mark": {"type": "rule", "color": "#333", "strokeWidth": 1}, "encoding": {"x": {"datum": 1.484, "type": "quantitative"}, "x2": {"datum": 7.7}, "y": {"datum": -0.8125, "type": "quantitative"}}},
     {"data": {"values": [{}]}, "mark": {"type": "text", "text": "A", "font": "Liberation Sans", "fontWeight": "bold", "fontSize": 11.5, "align": "center", "baseline": "middle", "color": "#000"}, "encoding": {"x": {"datum": 0.852, "type": "quantitative"}, "y": {"datum": 0.9875, "type": "quantitative"}}}
    ]
   },
   {
    "width": 297.7, "height": 218.3,
    "view": {"stroke": "#666"},
    "layer": [
     {
      "data": {"name": "cv"},
      "mark": {"type": "rule", "color": "#3a3a3a", "strokeWidth": 1.1},
      "encoding": {
       "x": {"field": "lx", "type": "quantitative", "scale": {"domain": [-7.94, -1.25], "nice": false, "zero": false}, "axis": {"title": "log2(lambda)", "values": [-7, -6, -5, -4, -3, -2], "grid": true, "titlePadding": 1}},
       "y": {"field": "lo", "type": "quantitative", "scale": {"domain": [7.58, 8.632], "nice": false, "zero": false}, "axis": {"title": "Partial Likelihood Deviance", "values": [7.6, 7.8, 8, 8.2, 8.4, 8.6], "format": ".1f", "grid": true, "titlePadding": 2}},
       "y2": {"field": "hi"}
      }
     },
     {"data": {"name": "cv"}, "mark": {"type": "point", "shape": "square", "filled": true, "size": 10, "color": "#FF3333", "opacity": 1}, "encoding": {"x": {"field": "lx", "type": "quantitative"}, "y": {"field": "m", "type": "quantitative"}}},
     {"data": {"values": [{}]}, "mark": {"type": "rule", "color": "#E8474A", "strokeDash": [2, 2], "strokeWidth": 0.9}, "encoding": {"x": {"datum": -6.73, "type": "quantitative"}, "y": {"datum": 7.58, "type": "quantitative"}, "y2": {"datum": 8.632}}},
     {"data": {"values": [{}]}, "mark": {"type": "text", "text": "λ=9.4e-3", "fontSize": 7.5, "align": "center", "baseline": "middle", "color": "#222"}, "encoding": {"x": {"datum": -6.73, "type": "quantitative"}, "y": {"datum": 8.611, "type": "quantitative"}}},
     {"data": {"values": [{}]}, "mark": {"type": "text", "text": "B", "font": "Liberation Sans", "fontWeight": "bold", "fontSize": 11.5, "align": "center", "baseline": "middle", "color": "#000"}, "encoding": {"x": {"datum": -8.422, "type": "quantitative"}, "y": {"datum": 8.607, "type": "quantitative"}}}
    ]
   },
   {
    "width": 293.4, "height": 201.6,
    "view": {"stroke": "#333"},
    "layer": [
     {
      "data": {"name": "km"},
      "mark": {"type": "area", "interpolate": "step-after", "opacity": 0.25},
      "encoding": {
       "x": {"field": "t", "type": "quantitative", "scale": {"domain": [-4.6, 243.6], "nice": false, "zero": false}, "axis": {"title": "Time", "values": [0, 59, 118, 177, 236], "grid": false, "labelFont": "Liberation Sans", "titleFont": "Liberation Sans", "labelFontSize": 6.5, "titleFontSize": 7.5, "titlePadding": 0.5}},
       "y": {"field": "lo", "type": "quantitative", "scale": {"domain": [-0.307, 1.068], "nice": false, "zero": false}, "axis": {"title": "Survival probability", "values": [0, 0.25, 0.5, 0.75, 1], "format": ".1f", "grid": false, "labelFont": "Liberation Sans", "titleFont": "Liberation Sans", "labelFontSize": 6.5, "titleFontSize": 7.5, "titlePadding": 1}},
       "y2": {"field": "hi"},
       "color": {"field": "g", "type": "nominal", "scale": {"domain": ["L", "H"], "range": ["#EE4B36", "#3FB8DA"]}, "legend": null}
      }
     },
     {"data": {"name": "km"}, "mark": {"type": "line", "interpolate": "step-after", "strokeWidth": 1}, "encoding": {"x": {"field": "t", "type": "quantitative"}, "y": {"field": "p", "type": "quantitative"}, "color": {"field": "g", "type": "nominal", "legend": null}}},
     {"data": {"name": "cens"}, "mark": {"type": "point", "shape": "M0,-1L0,1M-1,0L1,0", "size": 14, "strokeWidth": 0.8, "filled": false, "opacity": 1}, "encoding": {"x": {"field": "t", "type": "quantitative"}, "y": {"field": "p", "type": "quantitative"}, "color": {"field": "g", "type": "nominal", "legend": null}}},
     {"data": {"values": [{}]}, "mark": {"type": "rule", "strokeDash": [1.5, 1.5], "color": "#333", "strokeWidth": 0.8}, "encoding": {"x": {"datum": 0, "type": "quantitative"}, "x2": {"datum": 134}, "y": {"datum": 0.5, "type": "quantitative"}}},
     {"data": {"name": "medians"}, "mark": {"type": "rule", "strokeDash": [1.5, 1.5], "color": "#333", "strokeWidth": 0.8}, "encoding": {"x": {"field": "t", "type": "quantitative"}, "y": {"datum": 0.5, "type": "quantitative"}, "y2": {"datum": 0}}},
     {"data": {"name": "medians"}, "mark": {"type": "text", "font": "Liberation Sans", "fontSize": 7, "align": "center", "baseline": "middle", "color": "#222"}, "encoding": {"x": {"field": "t", "type": "quantitative"}, "y": {"datum": -0.03, "type": "quantitative"}, "text": {"field": "t", "type": "quantitative"}}},
     {"data": {"values": [{}]}, "mark": {"type": "text", "text": "p=3.2e-64", "font": "Liberation Sans", "fontSize": 7, "align": "left", "baseline": "middle", "color": "#222"}, "encoding": {"x": {"datum": -2.5, "type": "quantitative"}, "y": {"datum": 0.061, "type": "quantitative"}}},
     {"data": {"values": [{}]}, "mark": {"type": "text", "text": "HR=4.62,95CI%(3.81,5.59)", "font": "Liberation Sans", "fontSize": 7, "align": "left", "baseline": "middle", "color": "#222"}, "encoding": {"x": {"datum": -2.5, "type": "quantitative"}, "y": {"datum": -0.023, "type": "quantitative"}}},
     {"data": {"values": [{}]}, "mark": {"type": "rule", "color": "#333", "strokeWidth": 1}, "encoding": {"x": {"datum": -4.6, "type": "quantitative"}, "x2": {"datum": 243.6}, "y": {"datum": -0.075, "type": "quantitative"}}},
     {"data": {"values": [{}]}, "mark": {"type": "rule", "color": "#bbb", "strokeDash": [1, 1.5], "strokeWidth": 0.7}, "encoding": {"x": {"datum": -4.6, "type": "quantitative"}, "x2": {"datum": 243.6}, "y": {"datum": -0.153, "type": "quantitative"}}},
     {"data": {"values": [{}]}, "mark": {"type": "rule", "color": "#bbb", "strokeDash": [1, 1.5], "strokeWidth": 0.7}, "encoding": {"x": {"datum": -4.6, "type": "quantitative"}, "x2": {"datum": 243.6}, "y": {"datum": -0.232, "type": "quantitative"}}},
     {"data": {"name": "risk"}, "transform": [{"filter": "datum.g == 'L' && datum.t > 0"}], "mark": {"type": "rule", "color": "#bbb", "strokeDash": [1, 1.5], "strokeWidth": 0.7}, "encoding": {"x": {"field": "t", "type": "quantitative"}, "y": {"datum": -0.075, "type": "quantitative"}, "y2": {"datum": -0.307}}},
     {"data": {"name": "risk"}, "transform": [{"calculate": "datum.g == 'L' ? -0.193 : -0.273", "as": "ry"}], "mark": {"type": "text", "font": "Liberation Sans", "fontSize": 7, "align": "center", "baseline": "middle"}, "encoding": {"x": {"field": "t", "type": "quantitative"}, "y": {"field": "ry", "type": "quantitative"}, "text": {"field": "n", "type": "nominal"}, "color": {"field": "g", "type": "nominal", "legend": null}}},
     {"data": {"values": [{}]}, "mark": {"type": "text", "text": "Number at risk", "font": "Liberation Sans", "fontSize": 7, "align": "left", "baseline": "middle", "color": "#222"}, "encoding": {"x": {"datum": -3.8, "type": "quantitative"}, "y": {"datum": -0.114, "type": "quantitative"}}},
     {"data": {"values": [{}]}, "mark": {"type": "text", "text": "L", "font": "Liberation Sans", "fontSize": 7, "align": "right", "baseline": "middle", "color": "#EE4B36"}, "encoding": {"x": {"datum": -7, "type": "quantitative"}, "y": {"datum": -0.193, "type": "quantitative"}}},
     {"data": {"values": [{}]}, "mark": {"type": "text", "text": "H", "font": "Liberation Sans", "fontSize": 7, "align": "right", "baseline": "middle", "color": "#3FB8DA"}, "encoding": {"x": {"datum": -7, "type": "quantitative"}, "y": {"datum": -0.273, "type": "quantitative"}}},
     {"data": {"values": [{}]}, "mark": {"type": "text", "text": "RiskScore", "font": "Liberation Sans", "fontSize": 7, "align": "left", "baseline": "middle", "color": "#222"}, "encoding": {"x": {"datum": 209.2, "type": "quantitative"}, "y": {"datum": 1.016, "type": "quantitative"}}},
     {"data": {"values": [{}]}, "mark": {"type": "point", "shape": "square", "filled": true, "size": 25, "opacity": 1, "color": "#EE4B36"}, "encoding": {"x": {"datum": 211.3, "type": "quantitative"}, "y": {"datum": 0.955, "type": "quantitative"}}},
     {"data": {"values": [{}]}, "mark": {"type": "point", "shape": "square", "filled": true, "size": 25, "opacity": 1, "color": "#3FB8DA"}, "encoding": {"x": {"datum": 211.3, "type": "quantitative"}, "y": {"datum": 0.893, "type": "quantitative"}}},
     {"data": {"values": [{}]}, "mark": {"type": "text", "text": "L", "font": "Liberation Sans", "fontSize": 7, "align": "left", "baseline": "middle", "color": "#EE4B36"}, "encoding": {"x": {"datum": 215.4, "type": "quantitative"}, "y": {"datum": 0.955, "type": "quantitative"}}},
     {"data": {"values": [{}]}, "mark": {"type": "text", "text": "H", "font": "Liberation Sans", "fontSize": 7, "align": "left", "baseline": "middle", "color": "#3FB8DA"}, "encoding": {"x": {"datum": 215.4, "type": "quantitative"}, "y": {"datum": 0.893, "type": "quantitative"}}},
     {"data": {"values": [{}]}, "mark": {"type": "text", "text": "C", "font": "Liberation Sans", "fontWeight": "bold", "fontSize": 11.5, "align": "center", "baseline": "middle", "color": "#000"}, "encoding": {"x": {"datum": -23.4, "type": "quantitative"}, "y": {"datum": 1.091, "type": "quantitative"}}}
    ]
   },
   {
    "width": 297.7, "height": 217.7,
    "view": {"stroke": "#666"},
    "layer": [
     {"data": {"values": [{}]}, "mark": {"type": "rule", "color": "#555", "strokeDash": [2, 2], "strokeWidth": 0.8}, "encoding": {"x": {"datum": 0, "type": "quantitative"}, "y": {"datum": 0, "type": "quantitative"}, "x2": {"datum": 1}, "y2": {"datum": 1}}},
     {
      "data": {"name": "roc"},
      "transform": [{"lookup": "k", "from": {"data": {"name": "aucs"}, "key": "k", "fields": ["s"]}}],
      "mark": {"type": "line", "interpolate": "step-after", "strokeWidth": 1.2},
      "encoding": {
       "x": {"field": "x", "type": "quantitative", "scale": {"domain": [0, 1], "nice": false}, "axis": {"title": "1-Specificities", "values": [0, 0.2, 0.4, 0.6, 0.8, 1], "format": ".1f", "grid": true, "titlePadding": 0}},
       "y": {"field": "y", "type": "quantitative", "scale": {"domain": [0, 1], "nice": false}, "axis": {"title": "Sensitivities", "values": [0, 0.2, 0.4, 0.6, 0.8, 1], "format": ".1f", "grid": true, "titlePadding": 2}},
       "color": {"field": "s", "type": "nominal", "scale": {"domain": ["1:0.86(0.91-0.81)","2:0.88(0.91-0.85)","3:0.88(0.91-0.84)","4:0.86(0.90-0.83)","5:0.87(0.90-0.83)","6:0.87(0.90-0.83)","7:0.87(0.90-0.84)","8:0.87(0.90-0.84)","9:0.87(0.90-0.84)","10:0.87(0.89-0.84)"], "range": ["#EE6F5C","#4DBBD5","#00A087","#3C5488","#F7A88D","#8491B4","#91D1C2","#E41A1C","#7E6148","#C4B09C"]},
        "legend": {"orient": "none", "legendX": 232, "legendY": 126, "title": "Time:AUC(95%CI)", "titleFontSize": 7.5, "titleFontWeight": "normal", "titleColor": "#222", "titlePadding": 2, "titleAnchor": "end", "labelFontSize": 7.5, "labelColor": "#222", "symbolType": "M-2.1,0L2.1,0", "symbolSize": 36, "symbolStrokeWidth": 1.5, "rowPadding": 0.2, "labelOffset": 4}}
      }
     },
     {"data": {"values": [{}]}, "mark": {"type": "text", "text": "D", "font": "Liberation Sans", "fontWeight": "bold", "fontSize": 11.5, "align": "center", "baseline": "middle", "color": "#000"}, "encoding": {"x": {"datum": -0.0722, "type": "quantitative"}, "y": {"datum": 0.948, "type": "quantitative"}}}
    ]
   }
]
}
